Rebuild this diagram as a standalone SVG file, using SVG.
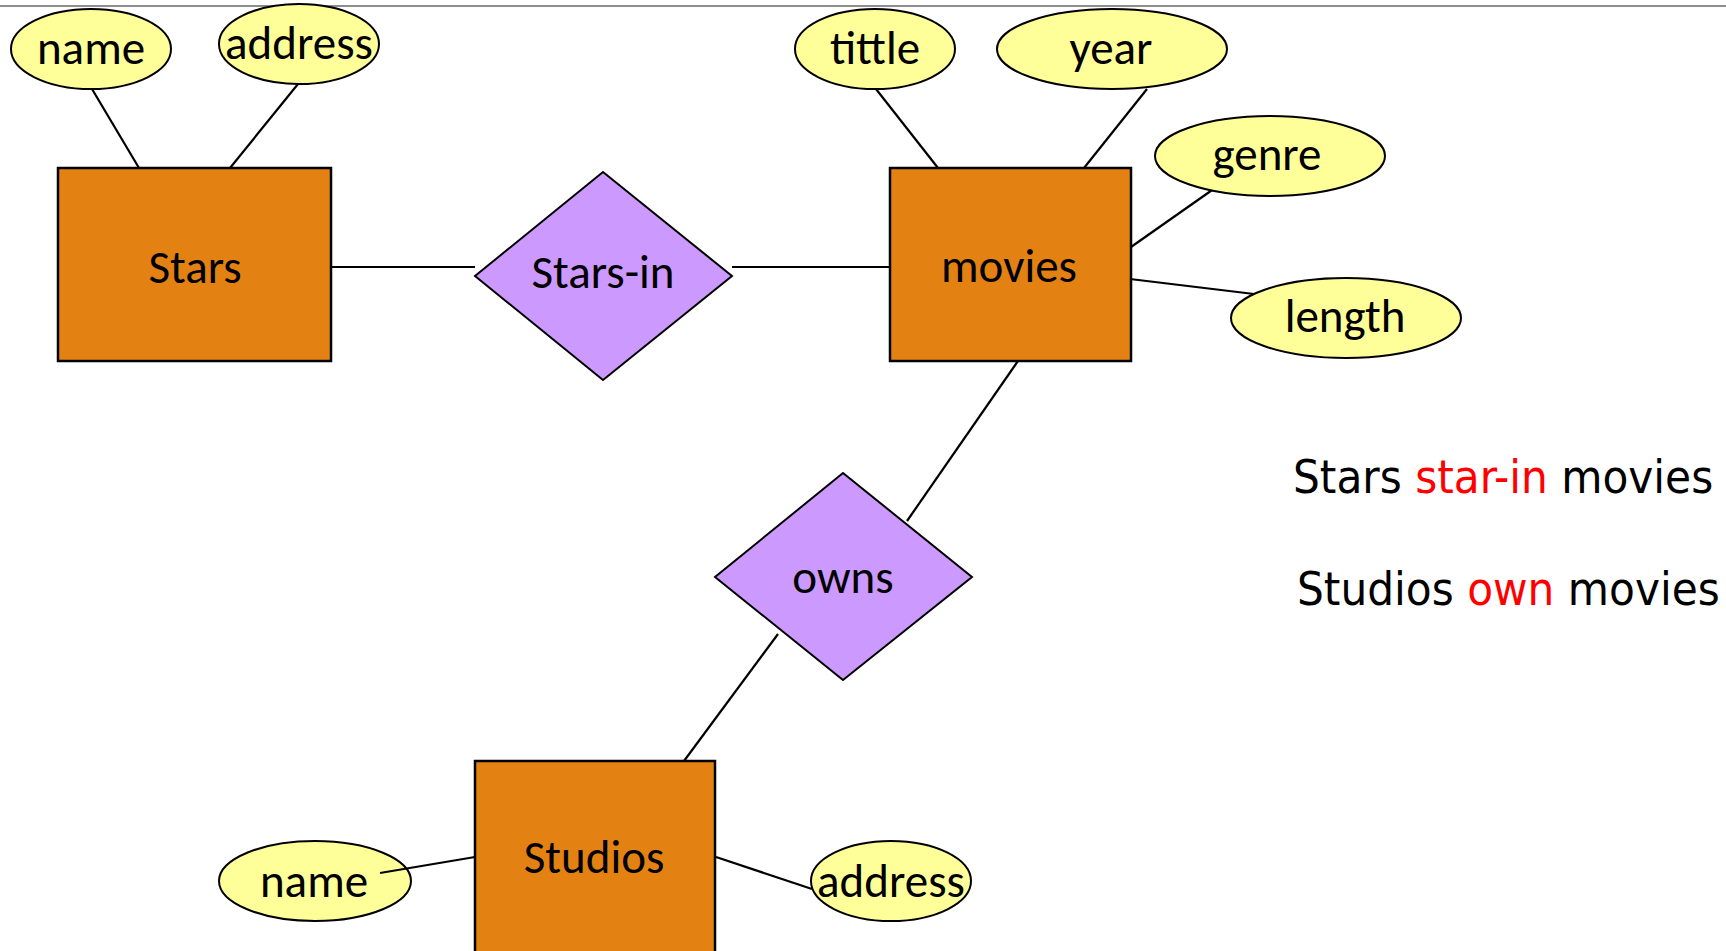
<svg xmlns="http://www.w3.org/2000/svg" width="1726" height="951" viewBox="0 0 1726 951">
<style>
.ent{fill:#E38212;stroke:#000;stroke-width:2.5}
.rel{fill:#CC99FF;stroke:#000;stroke-width:2}
.att{fill:#FFFF99;stroke:#000;stroke-width:2}
.lbl{font-family:Carlito,Lato,"Liberation Sans",sans-serif;font-size:47px;fill:#000;text-anchor:middle}
.cn{stroke:#000;stroke-width:2.2;fill:none}
.sent{font-family:"DejaVu Sans Condensed","DejaVu Sans",sans-serif;font-size:47px;fill:#000}
.red{fill:#FF0000}
</style>
<rect x="0" y="5" width="1726" height="2" fill="#8c8c8c"/>
<g id="connectors">
<line class="cn" x1="92" y1="89" x2="139" y2="168"/>
<line class="cn" x1="298" y1="84" x2="230" y2="168"/>
<line class="cn" x1="331" y1="267" x2="475" y2="267"/>
<line class="cn" x1="732" y1="267" x2="890" y2="267"/>
<line class="cn" x1="876" y1="89" x2="938" y2="168"/>
<line class="cn" x1="1147" y1="89" x2="1084" y2="168"/>
<line class="cn" x1="1215" y1="188" x2="1131" y2="247"/>
<line class="cn" x1="1130" y1="279" x2="1254" y2="294"/>
<line class="cn" x1="1018" y1="361" x2="907" y2="521"/>
<line class="cn" x1="778" y1="634" x2="684" y2="761"/>
<line class="cn" x1="716" y1="857" x2="812" y2="889"/>
</g>
<g id="attr-stars-name"><ellipse class="att" cx="91" cy="49" rx="80" ry="40"/><text class="lbl" x="91" y="64">name</text></g>
<g id="attr-stars-address"><ellipse class="att" cx="299" cy="44" rx="80" ry="40"/><text class="lbl" x="299" y="59">address</text></g>
<g id="stars"><rect class="ent" x="58" y="168" width="273" height="193"/><text class="lbl" x="195" y="283">Stars</text></g>
<g id="stars-in"><polygon class="rel" points="603,172 732,276 603,380 475,276"/><text class="lbl" x="603" y="288">Stars-in</text></g>
<g id="movies"><rect class="ent" x="890" y="168" width="241" height="193"/><text class="lbl" x="1009" y="282">movies</text></g>
<g id="attr-tittle"><ellipse class="att" cx="875" cy="49" rx="80" ry="40"/><text class="lbl" x="875" y="64">tittle</text></g>
<g id="attr-year"><ellipse class="att" cx="1112" cy="49" rx="115" ry="40"/><text class="lbl" x="1111" y="64">year</text></g>
<g id="attr-genre"><ellipse class="att" cx="1270" cy="156" rx="115" ry="40"/><text class="lbl" x="1267" y="170">genre</text></g>
<g id="attr-length"><ellipse class="att" cx="1346" cy="318" rx="115" ry="40"/><text class="lbl" x="1345" y="332">length</text></g>
<g id="owns"><polygon class="rel" points="843,473 972,577 843,680 715,577"/><text class="lbl" x="843" y="593">owns</text></g>
<g id="studios"><rect class="ent" x="475" y="761" width="240" height="200"/><text class="lbl" x="594" y="873">Studios</text></g>
<g id="attr-studios-name"><ellipse class="att" cx="315" cy="881" rx="96" ry="40"/><text class="lbl" x="314" y="897">name</text><line class="cn" x1="380" y1="873" x2="475" y2="857"/></g>
<g id="attr-studios-address"><ellipse class="att" cx="891" cy="881" rx="80" ry="40"/><text class="lbl" x="891" y="897">address</text></g>
<text class="sent" x="1293" y="493">Stars <tspan class="red">star-in</tspan> movies</text>
<text class="sent" x="1297" y="605">Studios <tspan class="red">own</tspan> movies</text>
</svg>
